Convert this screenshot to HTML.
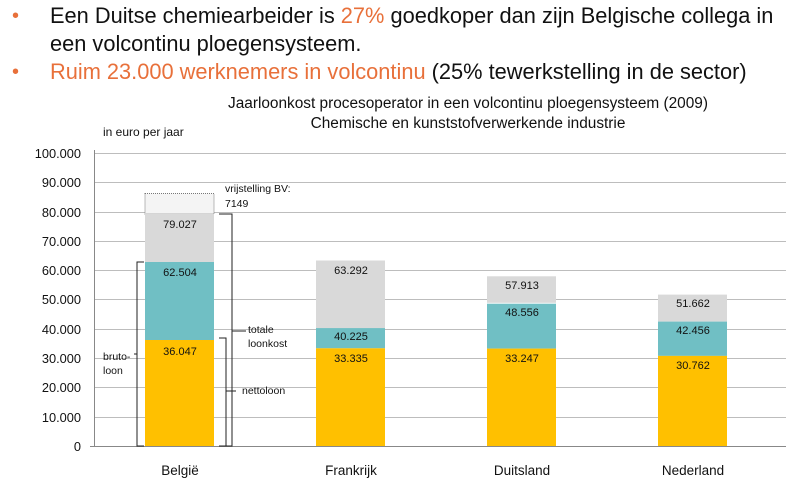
<!DOCTYPE html>
<html><head><meta charset="utf-8"><style>
body{margin:0;width:791px;height:485px;background:#fff;overflow:hidden;font-family:"Liberation Sans",sans-serif}
.h{position:absolute;left:50px;font-size:21.8px;color:#111;white-space:nowrap}
.o{color:#e8703a}
.b{position:absolute;left:12px;color:#e8703a;font-size:20px}
</style></head><body>
<div class="b" style="top:5px">•</div>
<div class="h" style="top:3px">Een Duitse chemiearbeider is <span class="o">27%</span> goedkoper dan zijn Belgische collega in</div>
<div class="h" style="top:31px">een volcontinu ploegensysteem.</div>
<div class="b" style="top:61px">•</div>
<div class="h" style="top:59px"><span class="o">Ruim 23.000 werknemers in volcontinu</span> (25% tewerkstelling in de sector)</div>
<svg width="791" height="485" style="position:absolute;left:0;top:0" font-family="Liberation Sans,sans-serif">
<text x="468" y="108" font-size="15.4" text-anchor="middle" fill="#111">Jaarloonkost procesoperator in een volcontinu ploegensysteem (2009)</text>
<text x="468" y="128" font-size="15.4" text-anchor="middle" fill="#111">Chemische en kunststofverwerkende industrie</text>
<text x="103" y="136" font-size="12" fill="#111">in euro per jaar</text>
<g stroke="#bdbdbd" stroke-width="1">
<line x1="94" x2="786" y1="153.5" y2="153.5"/><line x1="94" x2="786" y1="182.5" y2="182.5"/><line x1="94" x2="786" y1="212.5" y2="212.5"/><line x1="94" x2="786" y1="241.5" y2="241.5"/><line x1="94" x2="786" y1="270.5" y2="270.5"/><line x1="94" x2="786" y1="299.5" y2="299.5"/><line x1="94" x2="786" y1="329.5" y2="329.5"/><line x1="94" x2="786" y1="358.5" y2="358.5"/><line x1="94" x2="786" y1="387.5" y2="387.5"/><line x1="94" x2="786" y1="417.5" y2="417.5"/>
</g>
<line x1="94.5" x2="94.5" y1="150" y2="446" stroke="#888"/>
<line x1="90" x2="786" y1="446.5" y2="446.5" stroke="#888"/>
<g font-size="12.8" text-anchor="end" fill="#111">
<text x="81" y="158">100.000</text><text x="81" y="187">90.000</text><text x="81" y="217">80.000</text><text x="81" y="246">70.000</text><text x="81" y="275">60.000</text><text x="81" y="304">50.000</text><text x="81" y="334">40.000</text><text x="81" y="363">30.000</text><text x="81" y="392">20.000</text><text x="81" y="422">10.000</text><text x="81" y="451">0</text>
</g>
<g>
<rect x="145" y="193.5" width="69" height="20.5" fill="#f4f4f4" stroke="#777" stroke-dasharray="1,1"/>
<rect x="145" y="214" width="69" height="48" fill="#d9d9d9"/>
<rect x="145" y="262" width="69" height="78" fill="#70bfc4"/>
<rect x="145" y="340" width="69" height="106" fill="#ffc000"/>
<rect x="316" y="260.5" width="69" height="68.6" fill="#d9d9d9"/>
<rect x="316" y="328.1" width="69" height="20.2" fill="#70bfc4"/>
<rect x="316" y="348.3" width="69" height="97.7" fill="#ffc000"/>
<rect x="487" y="276.3" width="69" height="26.5" fill="#d9d9d9"/>
<rect x="487" y="303.7" width="69" height="44.9" fill="#70bfc4"/>
<rect x="487" y="348.6" width="69" height="97.4" fill="#ffc000"/>
<rect x="658" y="294.6" width="69" height="27" fill="#d9d9d9"/>
<rect x="658" y="321.6" width="69" height="34.3" fill="#70bfc4"/>
<rect x="658" y="355.9" width="69" height="90.1" fill="#ffc000"/>
</g>
<g font-size="11" text-anchor="middle" fill="#111">
<text x="180" y="228">79.027</text><text x="180" y="276">62.504</text><text x="180" y="355">36.047</text>
<text x="351" y="274">63.292</text><text x="351" y="340">40.225</text><text x="351" y="362">33.335</text>
<text x="522" y="289">57.913</text><text x="522" y="316">48.556</text><text x="522" y="362">33.247</text>
<text x="693" y="307">51.662</text><text x="693" y="334">42.456</text><text x="693" y="369">30.762</text>
</g>
<g font-size="13.5" text-anchor="middle" fill="#111">
<text x="180" y="475">België</text><text x="351" y="475">Frankrijk</text><text x="522" y="475">Duitsland</text><text x="693" y="475">Nederland</text>
</g>
<g font-size="10.5" fill="#111">
<text x="225" y="192">vrijstelling BV:</text><text x="225" y="207">7149</text>
<text x="248" y="333">totale</text><text x="248" y="347">loonkost</text>
<text x="242" y="394">nettoloon</text>
<text x="103" y="360">bruto-</text><text x="103" y="374">loon</text>
</g>
<g fill="none" stroke="#222" stroke-width="1">
<path d="M144,262 H137 V446 H144"/><path d="M137,354 H134"/>
<path d="M219,214 H232 V446 H219"/><path d="M232,331 H246"/>
<path d="M219,338 H226 V446 H219"/><path d="M226,391 H236"/>
</g>
</svg>
</body></html>
